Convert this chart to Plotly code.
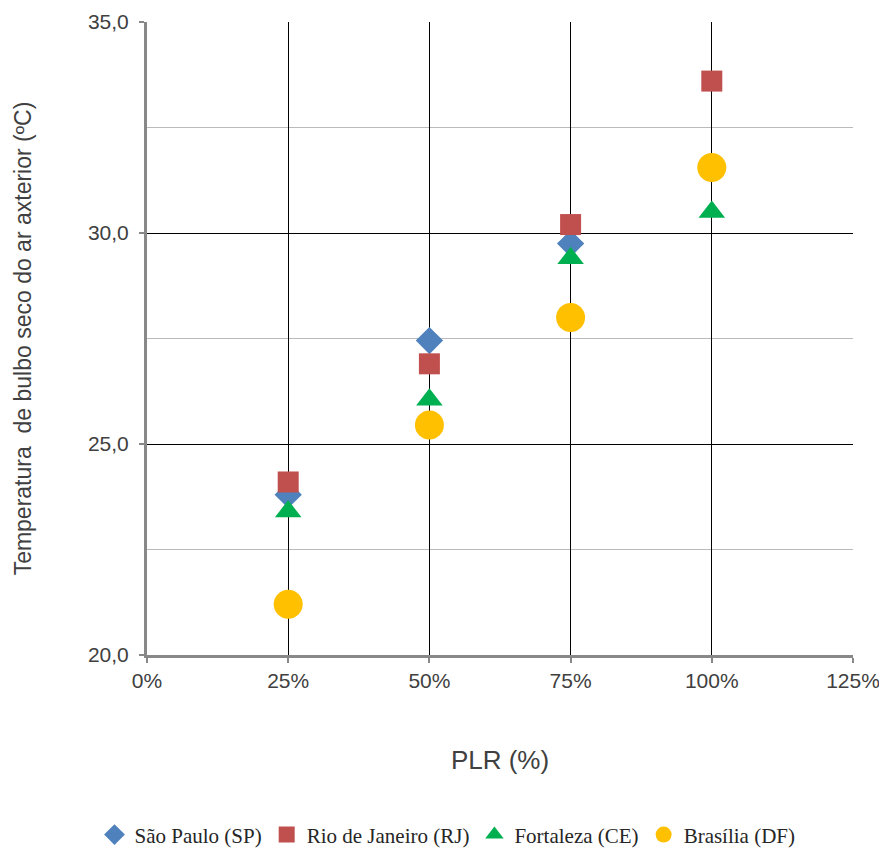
import plotly.graph_objects as go

plr = [0.25, 0.50, 0.75, 1.00]
sp_plr = [0.25, 0.50, 0.75]
sao_paulo = [23.8, 27.45, 29.75]
rio = [24.1, 26.9, 30.2, 33.6]
fortaleza = [23.4, 26.05, 29.4, 30.5]
brasilia = [21.2, 25.45, 28.0, 31.55]

names = ["São Paulo (SP)", "Rio de Janeiro (RJ)", "Fortaleza (CE)", "Brasília (DF)"]
colors = ["#4F81BD", "#C0504D", "#00B050", "#FFC000"]

fig = go.Figure()
fig.add_trace(go.Scatter(x=sp_plr, y=sao_paulo, mode="markers", name=names[0],
                         marker=dict(symbol="diamond", size=21, color=colors[0])))
fig.add_trace(go.Scatter(x=plr, y=rio, mode="markers", name=names[1],
                         marker=dict(symbol="square", size=21, color=colors[1])))
fig.add_trace(go.Scatter(x=plr, y=fortaleza, mode="markers", name=names[2],
                         marker=dict(symbol="triangle-up", size=23, color=colors[2])))
fig.add_trace(go.Scatter(x=plr, y=brasilia, mode="markers", name=names[3],
                         marker=dict(symbol="circle", size=29, color=colors[3])))

# page body has an 8px default margin, so the figure is sized 8px smaller
fig.update_layout(
    width=879, height=846,
    margin=dict(l=139, r=34, t=14, b=199),
    paper_bgcolor="white", plot_bgcolor="white",
    separators=",.",
    font=dict(family="Liberation Sans, Arial", size=21, color="#404040"),
    showlegend=True,
    legend=dict(orientation="h", xref="container", yref="container",
                x=0.5, xanchor="center", y=0.0225, yanchor="middle",
                font=dict(family="Liberation Serif, Times New Roman", size=21, color="#262626"),
                itemwidth=30, tracegroupgap=0),
)
fig.update_xaxes(
    range=[0, 1.25], tickmode="linear", tick0=0, dtick=0.25, tickformat=".0%",
    showgrid=True, gridcolor="#000000", gridwidth=1,
    showline=True, linecolor="#888888", linewidth=3,
    ticks="outside", ticklen=5, tickcolor="#888888", tickwidth=2,
    tickfont=dict(size=21, color="#404040"),
    title=dict(text="PLR (%)", font=dict(size=26, color="#404040"), standoff=60),
    zeroline=False, automargin=False,
)
fig.update_yaxes(
    range=[20, 35], tickmode="linear", tick0=20, dtick=5, tickformat=".1f",
    showgrid=True, gridcolor="#000000", gridwidth=1,
    minor=dict(dtick=2.5, tick0=20, showgrid=True, gridcolor="#BBBBBB", gridwidth=1),
    showline=True, linecolor="#888888", linewidth=3,
    ticks="outside", ticklen=5, tickcolor="#888888", tickwidth=2,
    ticklabelstandoff=6,
    tickfont=dict(size=21, color="#404040"),
    title=dict(text="Temperatura  de bulbo seco do ar axterior (ºC)",
               font=dict(size=23, color="#404040"), standoff=50),
    zeroline=False, automargin=False,
)

fig.write_html("out.html")
